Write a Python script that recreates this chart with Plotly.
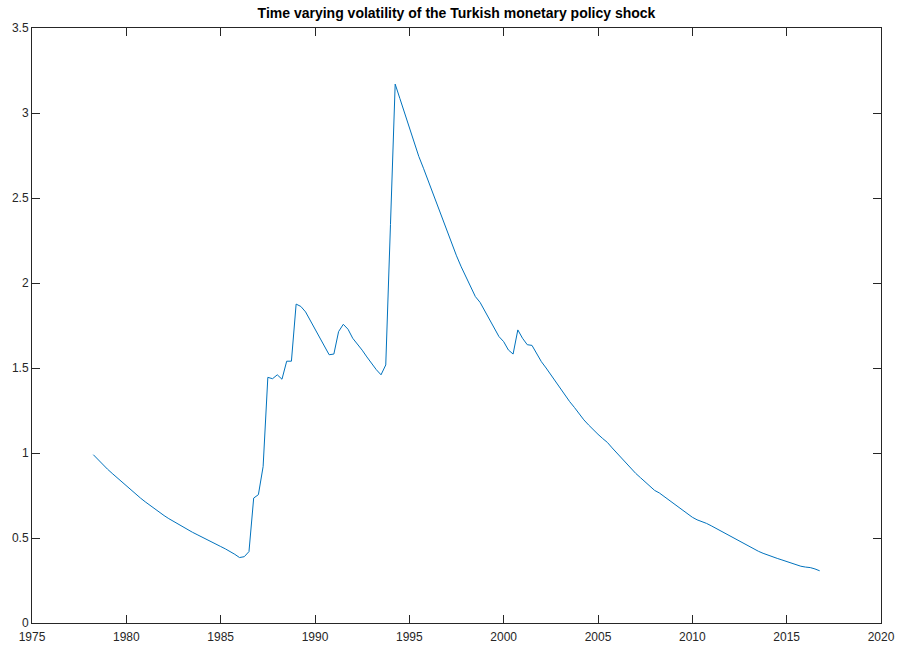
import plotly.graph_objects as go

start_year = 1978.25
step = 0.25

volatility = [
    0.99, 0.96, 0.93, 0.905, 0.88, 0.855, 0.83, 0.805,          # 1978.25-1980.0
    0.78, 0.757, 0.735, 0.713, 0.692, 0.672, 0.652, 0.632,      # 1980.25-1982.0
    0.614, 0.597, 0.58, 0.564, 0.549, 0.534, 0.52, 0.505,       # 1982.25-1984.0
    0.491, 0.477, 0.463, 0.45, 0.436, 0.421, 0.404, 0.385,      # 1984.25-1986.0
    0.39, 0.42, 0.735, 0.755, 0.92, 1.445, 1.437, 1.46,         # 1986.25-1988.0
    1.434, 1.54, 1.54, 1.876, 1.862, 1.83, 1.78, 1.728,         # 1988.25-1990.0
    1.675, 1.622, 1.578, 1.582, 1.714, 1.757, 1.728, 1.675,     # 1990.25-1992.0
    1.643, 1.605, 1.565, 1.527, 1.49, 1.46, 1.518, 2.344,       # 1992.25-1994.0
    3.17, 3.085, 3.0, 2.915, 2.83, 2.745, 2.675, 2.6,           # 1994.25-1996.0
    2.525, 2.45, 2.375, 2.3, 2.23, 2.16, 2.095, 2.035,          # 1996.25-1998.0
    1.975, 1.92, 1.886, 1.835, 1.782, 1.733, 1.685, 1.655,      # 1998.25-2000.0
    1.606, 1.582, 1.724, 1.675, 1.637, 1.633, 1.585, 1.537,     # 2000.25-2002.0
    1.50, 1.46, 1.418, 1.38, 1.34, 1.302, 1.268, 1.23,          # 2002.25-2004.0
    1.195, 1.165, 1.135, 1.11, 1.085, 1.062, 1.03, 1.0,         # 2004.25-2006.0
    0.97, 0.94, 0.907, 0.88, 0.855, 0.83, 0.805, 0.78,          # 2006.25-2008.0
    0.765, 0.745, 0.725, 0.702, 0.68, 0.66, 0.64, 0.622,        # 2008.25-2010.0
    0.607, 0.597, 0.586, 0.572, 0.557, 0.54, 0.525, 0.508,      # 2010.25-2012.0
    0.494, 0.479, 0.464, 0.45, 0.436, 0.422, 0.41, 0.399,       # 2012.25-2014.0
    0.389, 0.38, 0.371, 0.361, 0.351, 0.341, 0.334, 0.329,      # 2014.25-2016.0
    0.326, 0.318, 0.307,                                        # 2016.25-2016.75
]
dates = [start_year + step * i for i in range(len(volatility))]

x_ticks = [1975, 1980, 1985, 1990, 1995, 2000, 2005, 2010, 2015, 2020]
y_ticks = [0, 0.5, 1, 1.5, 2, 2.5, 3, 3.5]
y_labels = ["0", "0.5", "1", "1.5", "2", "2.5", "3", "3.5"]
title_text = "Time varying volatility of the Turkish monetary policy shock"

fig = go.Figure()
fig.add_trace(go.Scatter(
    x=dates, y=volatility, mode="lines",
    line=dict(color="#0072BD", width=1),
    hoverinfo="skip", showlegend=False,
))

axis_common = dict(
    showline=True, linecolor="#262626", linewidth=1, mirror="allticks",
    ticks="inside", ticklen=8, tickcolor="#262626", tickwidth=1,
    showgrid=False, zeroline=False, automargin=False,
    tickfont=dict(family="Liberation Sans, Arial, sans-serif", size=12, color="#262626"),
)

fig.update_layout(
    width=899, height=648,
    margin=dict(l=32, r=18, t=28, b=25),
    paper_bgcolor="white", plot_bgcolor="white",
    title=dict(
        text="<b>" + title_text + "</b>",
        x=(32 + 881) / 2 / 899, xanchor="center",
        y=1 - 13 / 648, yanchor="middle",
        font=dict(family="Liberation Sans, Arial, sans-serif", size=14, color="black"),
        automargin=False,
    ),
    xaxis=dict(range=[1975, 2020], tickvals=x_ticks,
               ticktext=[str(v) for v in x_ticks], ticklabelstandoff=3,
               **axis_common),
    yaxis=dict(range=[0, 3.5], tickvals=y_ticks, ticktext=y_labels, **axis_common),
)

fig.write_html("out.html")
